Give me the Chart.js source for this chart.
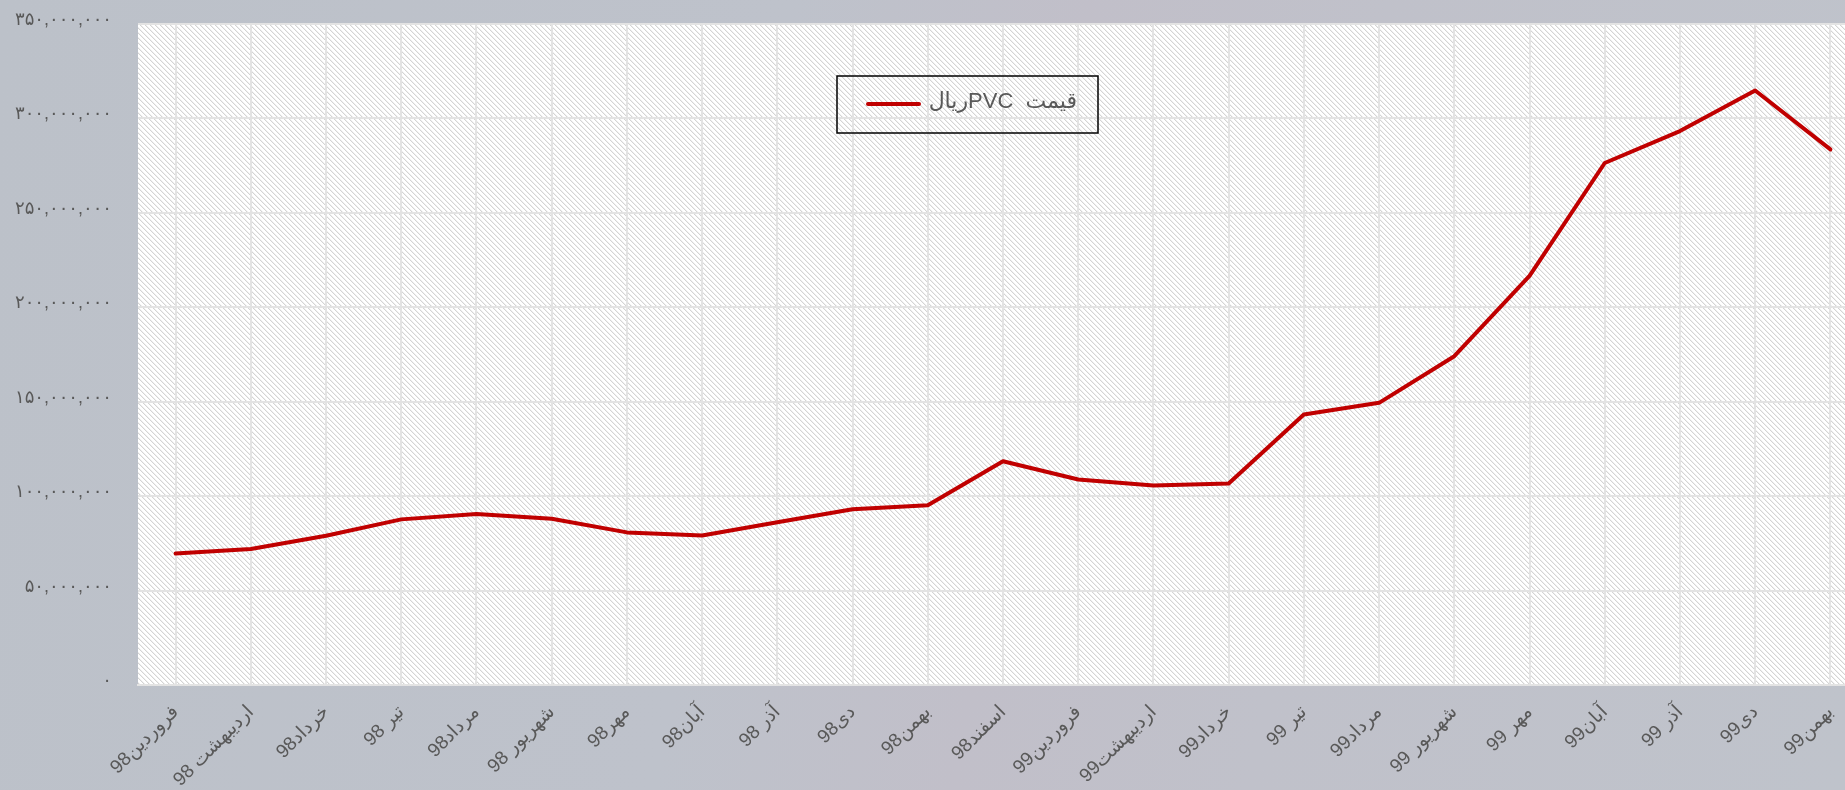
<!DOCTYPE html>
<html>
<head>
<meta charset="utf-8">
<script src="https://cdn.jsdelivr.net/npm/chart.js@4.4.1/dist/chart.umd.min.js"></script>
<style>
  html, body {
    margin: 0;
    padding: 0;
    width: 1845px;
    height: 790px;
    overflow: hidden;
    background: linear-gradient(100deg, #bcc1c9 0%, #bec2cb 40%, #c1bfc9 55%, #c0c1ca 70%, #bfc3cb 100%);
  }
  #wrap { width: 1868px; height: 790px; }
</style>
</head>
<body>
<div id="wrap"><canvas id="myChart" width="1868" height="790"></canvas></div>
<script>
// months (Persian calendar) 1398 - 1399
const months = [
    'فروردین98', 'اردیبهشت 98', 'خرداد98', 'تیر 98', 'مرداد98', 'شهریور 98',
    'مهر98', 'آبان98', 'آذر 98', 'دی98', 'بهمن98', 'اسفند98',
    'فروردین99', 'اردیبهشت99', 'خرداد99', 'تیر 99', 'مرداد99', 'شهریور 99',
    'مهر 99', 'آبان99', 'آذر 99', 'دی99', 'بهمن99'
]

// PVC price in rial
const priceRial = [
    69600000, 72000000, 79000000, 87700000, 90500000, 88000000,
    80800000, 79200000, 86200000, 93100000, 95200000, 118500000,
    108800000, 105600000, 106700000, 143200000, 149400000, 174100000,
    216600000, 276400000, 293300000, 314800000, 283600000
]

const seriesName = 'قیمت  PVCریال'
const yMin = 0
const yMax = 350000000
const yStep = 50000000

const persianDigits = '۰۱۲۳۴۵۶۷۸۹'
function toPersian(v) {
    return v.toLocaleString('en-US').replace(/\d/g, d => persianDigits[d])
}

function makeHatch() {
    let n = 10
    let c = document.createElement('canvas')
    c.width = n
    c.height = n
    let g = c.getContext('2d')
    let img = g.createImageData(n, n)
    for (let y = 0; y < n; y++) {
        for (let x = 0; x < n; x++) {
            let k = ((x - y) % 5 + 5) % 5
            let v = 255
            if (k == 0) v = 212
            else if (k == 1) v = 240
            let i = (y * n + x) * 4
            img.data[i] = v
            img.data[i + 1] = v
            img.data[i + 2] = v
            img.data[i + 3] = 255
        }
    }
    g.putImageData(img, 0, 0)
    return g.createPattern(c, 'repeat')
}

const hatchBackground = {
    id: 'hatchBackground',
    beforeDraw(chart) {
        let a = chart.chartArea
        let ctx = chart.ctx
        ctx.save()
        ctx.fillStyle = makeHatch()
        ctx.fillRect(a.left, a.top, a.right - a.left, a.bottom - a.top)
        ctx.restore()
    }
}

// legend box drawn inside the plot like the original
const boxLegend = {
    id: 'boxLegend',
    afterDraw(chart) {
        let ds = chart.data.datasets[0]
        let ctx = chart.ctx
        let x = 837, y = 76, w = 261, h = 57
        ctx.save()
        ctx.strokeStyle = '#000'
        ctx.lineWidth = 1.5
        ctx.strokeRect(x, y, w, h)
        ctx.strokeStyle = ds.borderColor
        ctx.lineWidth = 4
        ctx.lineCap = 'round'
        ctx.beginPath()
        ctx.moveTo(x + 31, y + 28)
        ctx.lineTo(x + 82, y + 28)
        ctx.stroke()
        ctx.direction = 'rtl'
        ctx.textAlign = 'right'
        ctx.textBaseline = 'middle'
        ctx.fillStyle = '#595959'
        ctx.font = '22px "Liberation Sans", "DejaVu Sans", sans-serif'
        ctx.fillText(ds.label, x + 240, y + 26)
        ctx.restore()
    }
}

const ctx = document.getElementById('myChart')
const fontFamily = '"Liberation Sans", "DejaVu Sans", sans-serif'

let myChart = new Chart(ctx, {
    type: 'line',
    data: {
        labels: months,
        datasets: [{
            label: seriesName,
            data: priceRial,
            borderColor: '#c00000',
            borderWidth: 4,
            pointRadius: 0,
            tension: 0,
            borderCapStyle: 'round',
            borderJoinStyle: 'round'
        }]
    },
    options: {
        responsive: false,
        animation: false,
        layout: { padding: { top: 24, left: 0, right: 0, bottom: 0 } },
        plugins: {
            legend: { display: false },
            tooltip: { enabled: false }
        },
        scales: {
            x: {
                offset: true,
                grid: { offset: false, color: '#e3e3e3', lineWidth: 2, drawTicks: false },
                border: { display: true, color: '#e3e3e3', width: 2 },
                ticks: {
                    autoSkip: false,
                    minRotation: 45,
                    maxRotation: 45,
                    color: '#595959',
                    font: { family: fontFamily, size: 19 },
                    padding: 16
                },
                afterFit: s => { s.height = 105 }
            },
            y: {
                min: yMin,
                max: yMax,
                // invisible tick marks keep the labels away from the plot
                grid: { color: '#e3e3e3', lineWidth: 2, drawTicks: true, tickLength: 24, tickColor: 'rgba(0,0,0,0)' },
                border: { display: false },
                ticks: {
                    stepSize: yStep,
                    color: '#595959',
                    font: { family: fontFamily, size: 18 },
                    padding: 2,
                    labelOffset: -4,
                    callback: v => toPersian(v)
                },
                afterFit: s => { s.width = 138 }
            }
        }
    },
    plugins: [hatchBackground, boxLegend]
})
</script>
</body>
</html>
